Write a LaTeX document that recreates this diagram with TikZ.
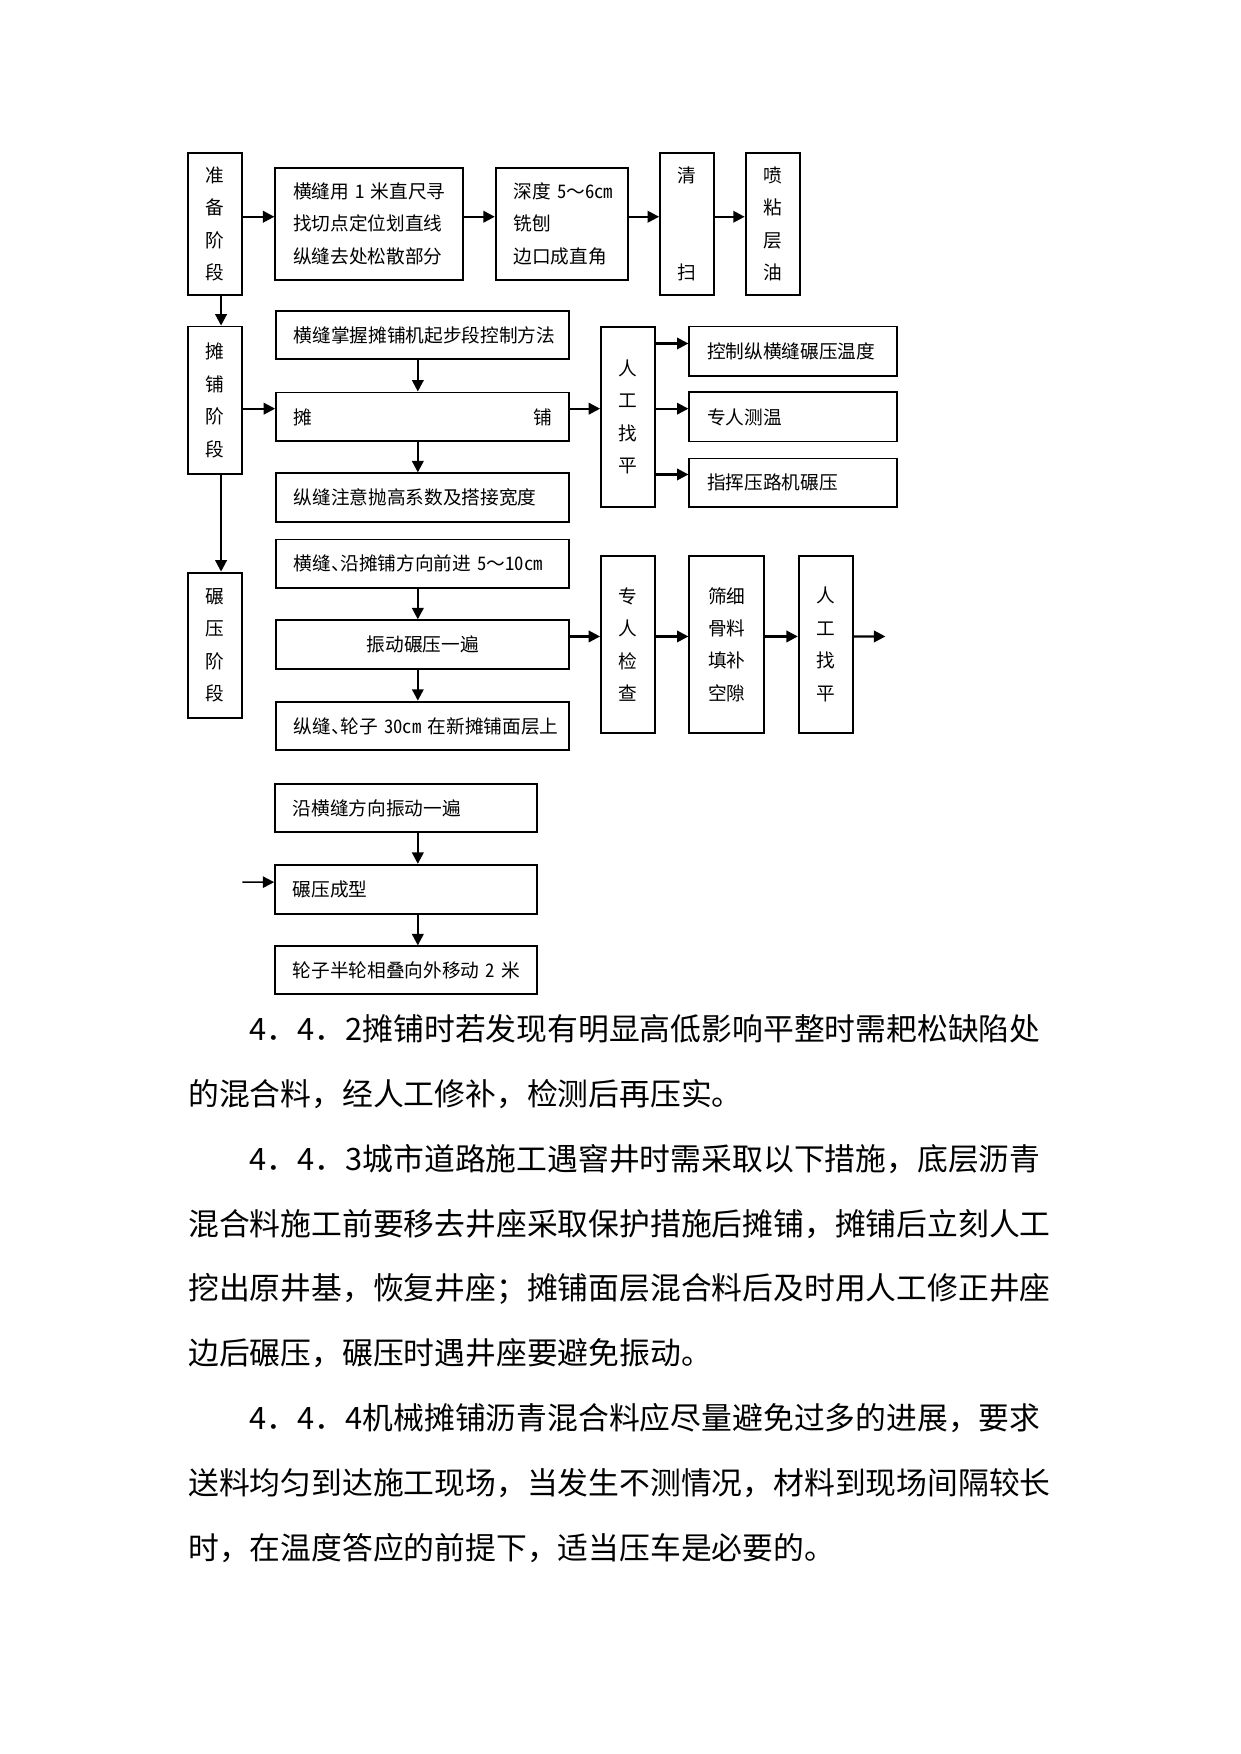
\documentclass[tikz,border=0pt]{standalone}
\usepackage{fontspec}
\setmainfont{Noto Sans CJK SC}
\newfontfamily\boxfont{Noto Sans CJK SC}[RawFeature={+hwid;+halt}]
\newcommand{\wavy}{{\rmfamily ～}}
\usetikzlibrary{positioning,calc,arrows.meta}

\begin{document}
\begin{tikzpicture}[
    font=\boxfont\fontsize{9pt}{15.6pt}\selectfont,
    >={Triangle[length=5.5pt,width=5.5pt]},
    box/.style={
        draw,
        line width=0.9pt,
        inner sep=0pt
    },
    stage/.style={
        box,
        align=center,
        minimum width=0.92cm
    },
    textbox/.style={
        box,
        inner xsep=0.3cm,
        align=left,
        text width=#1
    },
    textbox/.default=4.367cm,
    arrow/.style={
        ->,
        line width=1.1pt
    },
    para/.style={
        anchor=base west,
        inner sep=0pt,
        font=\rmfamily\fontsize{14.84pt}{31.2pt}\selectfont
    }
]

\useasboundingbox (0,0) rectangle (21,-29.7);

\node[stage, minimum height=2.405cm] (prep) at (3.643,-3.79) {准\\备\\阶\\段};
\node[textbox=2.574cm, minimum height=1.89cm] (cut) at (6.249,-3.79) {横缝用~1~米直尺寻\\找切点定位划直线\\纵缝去处松散部分};
\node[textbox=1.633cm, minimum height=1.89cm] (mill) at (9.511,-3.79) {深度~5\wavy 6cm\\铣刨\\边口成直角};
\node[stage, minimum height=2.405cm] (clean) at (11.636,-3.79) {清\\[31.2pt]扫};
\node[stage, minimum height=2.405cm] (tack) at (13.085,-3.79) {喷\\粘\\层\\油};

\node[stage, minimum height=2.5cm] (pave) at (3.643,-6.779) {摊\\铺\\阶\\段};
\node[textbox, minimum height=0.822cm] (start) at (7.158,-5.675) {横缝掌握摊铺机起步段控制方法};
\node[textbox, minimum height=0.829cm] (paving) at (7.158,-7.06) {摊\hfill 铺};
\node[textbox, minimum height=0.829cm] (lap) at (7.158,-8.429) {纵缝注意抛高系数及搭接宽度};
\node[stage, minimum height=3.054cm] (level1) at (10.637,-7.06) {人\\工\\找\\平};
\node[textbox=2.915cm, minimum height=0.833cm] (temp) at (13.43,-5.946) {控制纵横缝碾压温度};
\node[textbox=2.915cm, minimum height=0.833cm] (meas) at (13.43,-7.06) {专人测温};
\node[textbox=2.915cm, minimum height=0.82cm] (roller) at (13.43,-8.174) {指挥压路机碾压};

\node[stage, minimum height=2.462cm] (rolling) at (3.643,-10.926) {碾\\压\\阶\\段};
\node[textbox, minimum height=0.824cm] (advance) at (7.158,-9.547) {横缝、沿摊铺方向前进~5\wavy 10cm};
\node[box, minimum width=4.967cm, minimum height=0.818cm] (vib) at (7.158,-10.912) {振动碾压一遍};
\node[textbox, minimum height=0.826cm] (wheel) at (7.158,-12.293) {纵缝、轮子~30cm~在新摊铺面层上};
\node[stage, minimum height=2.998cm] (check) at (10.637,-10.912) {专\\人\\检\\查};
\node[stage, minimum width=1.265cm, minimum height=2.998cm] (fill) at (12.305,-10.912) {筛细\\骨料\\填补\\空隙};
\node[stage, minimum height=2.998cm] (level2) at (13.985,-10.912) {人\\工\\找\\平};

\node[textbox=3.831cm, minimum height=0.814cm] (along) at (6.874,-13.681) {沿横缝方向振动一遍};
\node[textbox=3.831cm, minimum height=0.827cm] (form) at (6.874,-15.057) {碾压成型};
\node[textbox=3.831cm, minimum height=0.81cm] (half) at (6.874,-16.429) {轮子半轮相叠向外移动~2~米};

\coordinate (col) at (7.075,0);
\coordinate (exit) at (14.992,-10.777);
\coordinate (feed) at (4.105,-14.937);

\draw[arrow] ([yshift=1.2mm]prep.east) -- ([yshift=1.2mm]cut.west);
\draw[arrow] ([yshift=1.2mm]cut.east) -- ([yshift=1.2mm]mill.west);
\draw[arrow] ([yshift=1.2mm]mill.east) -- ([yshift=1.2mm]clean.west);
\draw[arrow] ([yshift=1.2mm]clean.east) -- ([yshift=1.2mm]tack.west);

\draw[arrow] ([xshift=1mm]prep.south) -- ([xshift=1mm]pave.north);
\draw[arrow] ([xshift=1mm]pave.south) -- ([xshift=1mm]rolling.north);

\draw[arrow] ([yshift=1.4mm]pave.east |- paving.west) -- ([yshift=1.4mm]paving.west);
\draw[arrow] (start.south -| col) -- (paving.north -| col);
\draw[arrow] (paving.south -| col) -- (lap.north -| col);
\draw[arrow] ([yshift=1.4mm]paving.east) -- ([yshift=1.4mm]level1.west);
\draw[arrow] ($(level1.east |- temp.west)+(0,0.13)$) -- ($(temp.west)+(0,0.13)$);
\draw[arrow] ([yshift=1.4mm]level1.east) -- ([yshift=1.4mm]meas.west);
\draw[arrow] ($(level1.east |- roller.west)+(0,0.14)$) -- ($(roller.west)+(0,0.14)$);

\draw[arrow] (advance.south -| col) -- (vib.north -| col);
\draw[arrow] (vib.south -| col) -- (wheel.north -| col);
\draw[arrow] ([yshift=1.35mm]vib.east) -- ([yshift=1.35mm]check.west);
\draw[arrow] ([yshift=1.35mm]check.east) -- ([yshift=1.35mm]fill.west);
\draw[arrow] ([yshift=1.35mm]fill.east) -- ([yshift=1.35mm]level2.west);
\draw[arrow] ([yshift=1.35mm]level2.east) -- (exit);

\draw[arrow] (along.south -| col) -- (form.north -| col);
\draw[arrow] (form.south -| col) -- (half.north -| col);
\draw[arrow, line width=0.8pt] (feed) -- ([yshift=1.2mm]form.west);

\foreach \txt [count=\i] in {
    {\hspace*{2em}4．4．2摊铺时若发现有明显高低影响平整时需耙松缺陷处},
    {的混合料，经人工修补，检测后再压实。},
    {\hspace*{2em}4．4．3城市道路施工遇窨井时需采取以下措施，底层沥青},
    {混合料施工前要移去井座采取保护措施后摊铺，摊铺后立刻人工},
    {挖出原井基，恢复井座；摊铺面层混合料后及时用人工修正井座},
    {边后碾压，碾压时遇井座要避免振动。},
    {\hspace*{2em}4．4．4机械摊铺沥青混合料应尽量避免过多的进展，要求},
    {送料均匀到达施工现场，当发生不测情况，材料到现场间隔较长},
    {时，在温度答应的前提下，适当压车是必要的。}
}{
    \node[para] (line\i) at (3.181,{-17.62-1.098*(\i-1)}) {\txt};
}

\end{tikzpicture}
\end{document}
